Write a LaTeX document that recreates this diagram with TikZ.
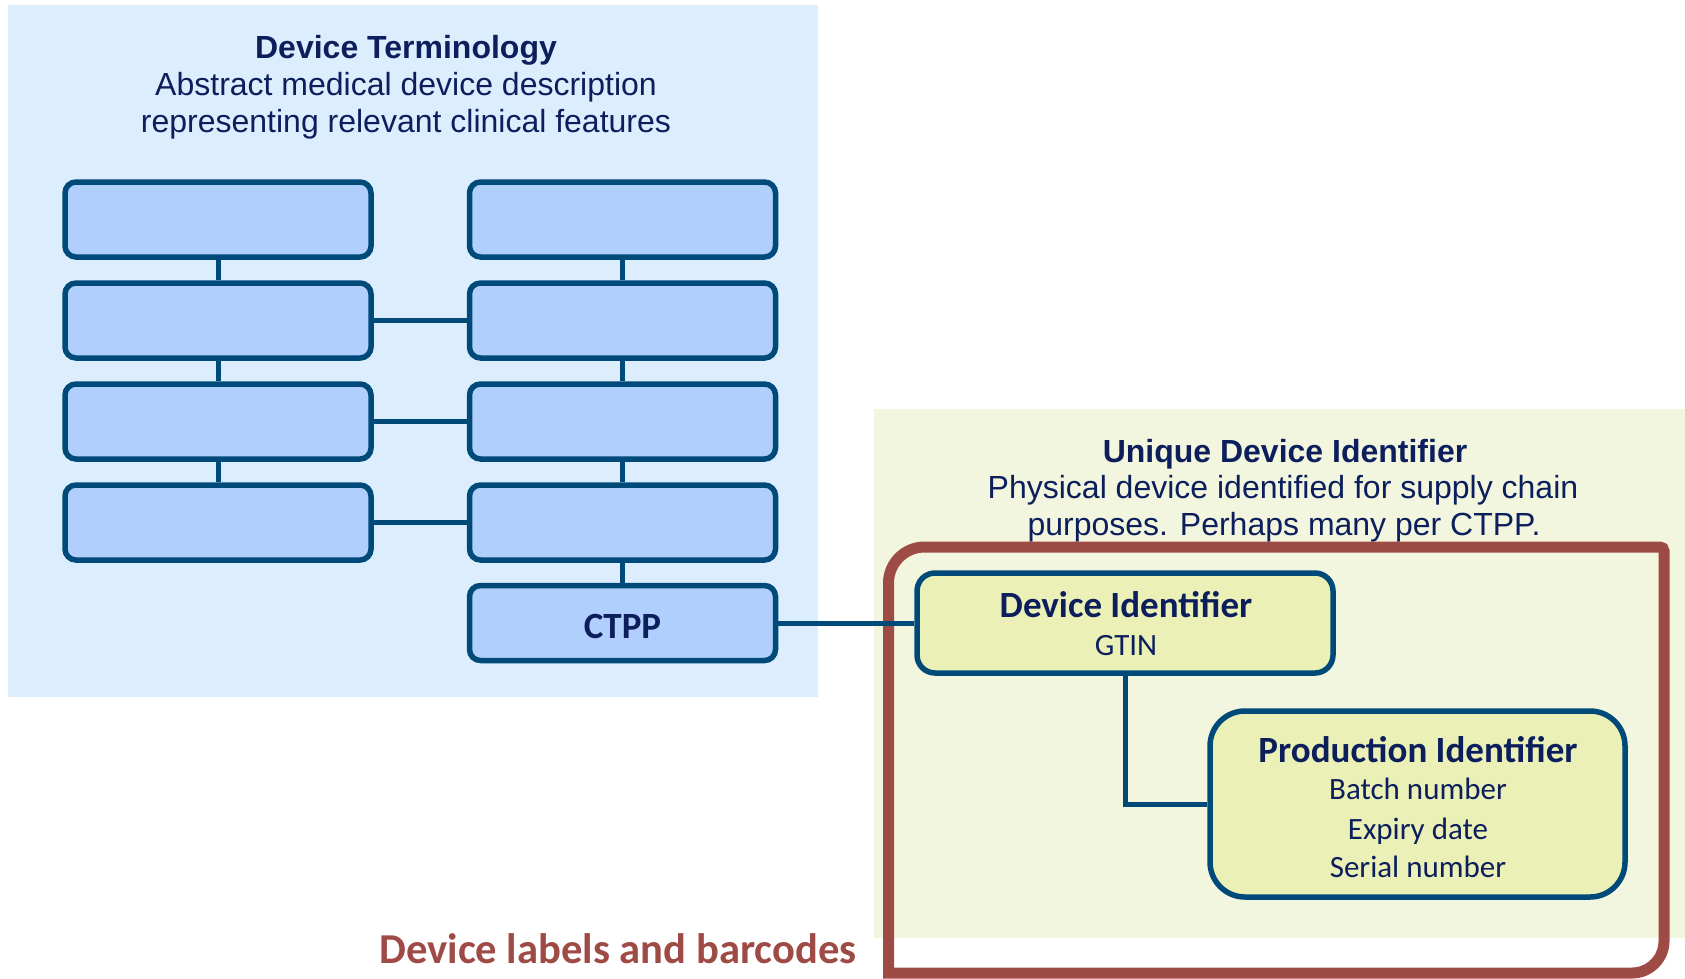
\documentclass[tikz,border=0pt]{standalone}
\usepackage{fontspec}
\setmainfont{Liberation Sans}
\newfontfamily\carlito{Carlito}
\usetikzlibrary{shadows}

\definecolor{termbg}{HTML}{DCEEFE}
\definecolor{termbox}{HTML}{B0CFFC}
\definecolor{edgeblue}{HTML}{004A7A}
\definecolor{udibg}{HTML}{F3F6DE}
\definecolor{udibox}{HTML}{EBF0B7}
\definecolor{ink}{HTML}{0C1F5C}
\definecolor{labelred}{HTML}{9E4B46}

\tikzset{
  conceptbox/.style={draw=edgeblue, fill=termbox, line width=5.5pt,
    rounded corners=11pt, minimum width=306pt, minimum height=75pt, inner sep=0pt,
    drop shadow={shadow xshift=1.5pt, shadow yshift=-2.5pt, opacity=0.22}},
  idbox/.style={draw=edgeblue, fill=udibox, line width=5.5pt, inner sep=0pt},
  link/.style={draw=edgeblue, line width=5pt},
  headline/.style={anchor=base, text=ink, font=\fontsize{32}{38}\selectfont\bfseries},
  subline/.style={anchor=base, text=ink, font=\fontsize{32}{38}\selectfont},
  idtitle/.style={anchor=base, text=ink, font=\carlito\fontsize{37}{44}\selectfont\bfseries},
  iditem/.style={anchor=base, text=ink, font=\carlito\fontsize{31}{37}\selectfont},
}

\begin{document}
\begin{tikzpicture}[x=1pt, y=-1pt]
\useasboundingbox (0,0) rectangle (1685,978);

% panels
\fill[termbg] (8,5) rectangle (818,697);
\fill[udibg] (874,409) rectangle (1685,938);

% panel headings
\node[headline] (termtitle) at (406,58) {Device Terminology};
\node[subline] (termline1) at (406,95) {Abstract medical device description};
\node[subline] (termline2) at (406,132) {representing relevant clinical features};

\node[headline] (uditle) at (1285,462) {Unique Device Identifier};
\node[subline] (udiline1) at (1283,498) {Physical device identified for supply chain};
\node[subline] (udiline2) at (1284,535) {purposes. Perhaps many per CTPP.};

% label / barcode frame
\draw[labelred, line width=11pt] (888.5,973) -- (888.5,583)
  arc[start angle=180, end angle=270, radius=36] -- (1660,547)
  arc[start angle=270, end angle=360, radius=4] -- (1664,941)
  arc[start angle=0, end angle=90, radius=32] -- cycle;
\node[anchor=base, text=labelred, font=\carlito\fontsize{42.6}{50}\selectfont\bfseries]
  (framelabel) at (618,963) {Device labels and barcodes};

% terminology concepts
\node[conceptbox] (L1) at (218,219.5) {};
\node[conceptbox] (L2) at (218,320.5) {};
\node[conceptbox] (L3) at (218,421.5) {};
\node[conceptbox] (L4) at (218,522.5) {};
\node[conceptbox] (R1) at (622.5,219.5) {};
\node[conceptbox] (R2) at (622.5,320.5) {};
\node[conceptbox] (R3) at (622.5,421.5) {};
\node[conceptbox] (R4) at (622.5,522.5) {};
\node[conceptbox, font=\carlito\fontsize{37}{44}\selectfont\bfseries, text=ink,
  text height=30pt, text depth=0pt] (ctpp) at (622.5,623) {CTPP};

% identifier boxes
\node[idbox, rounded corners=18pt, minimum width=416pt, minimum height=100pt]
  (di) at (1125,623) {};
\node[idbox, rounded corners=35pt, minimum width=415pt, minimum height=186pt]
  (pi) at (1417.5,804) {};

% connectors
\draw[link] (L1) -- (L2);
\draw[link] (L2) -- (L3);
\draw[link] (L3) -- (L4);
\draw[link] (R1) -- (R2);
\draw[link] (R2) -- (R3);
\draw[link] (R3) -- (R4);
\draw[link] (R4) -- (ctpp);
\draw[link] (L2) -- (R2);
\draw[link] (L3) -- (R3);
\draw[link] (L4) -- (R4);
\draw[link] (ctpp) -- (di);
\draw[link] (di.south) |- (pi.west);

% identifier texts
\node[idtitle] (dititle) at (1126,617) {Device Identifier};
\node[iditem] (gtin) at (1126,655) {GTIN};
\node[idtitle] (pititle) at (1418,762) {Production Identifier};
\node[iditem] (batch) at (1418,799) {Batch number};
\node[iditem] (expiry) at (1418,839) {Expiry date};
\node[iditem] (serial) at (1418,877) {Serial number};
\end{tikzpicture}
\end{document}
